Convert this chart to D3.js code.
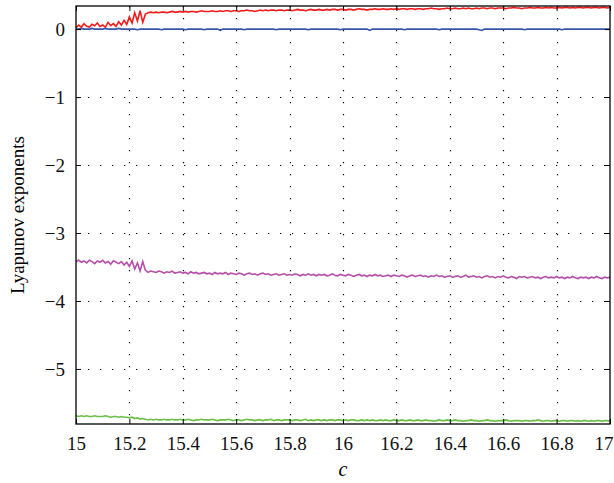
<!DOCTYPE html>
<html><head><meta charset="utf-8">
<script src="https://cdn.jsdelivr.net/npm/d3@7"></script>
<style>body{margin:0;background:#fff}svg{display:block}svg text{font-family:"Liberation Serif","Times New Roman",serif !important}</style>
</head><body><svg id="chart" width="614" height="483"></svg>
<script>
// c sweep: 15.00 .. 17.00, step 0.01 (201 samples)
const cStart = 15, cStep = 0.01;
const xTicks = [15,15.2,15.4,15.6,15.8,16,16.2,16.4,16.6,16.8,17];
const yTicks = [0,-1,-2,-3,-4,-5];

const lambda1 = [ // red
0.02,0.06,0.03,0.08,0.04,0.03,0.07,0.05,0.09,0.04,
0.06,0.03,0.10,0.05,0.08,0.04,0.11,0.06,0.13,0.07,
0.18,0.09,0.24,0.12,0.27,0.10,0.22,0.24,0.25,0.24,
0.25,0.24,0.25,0.25,0.24,0.25,0.26,0.25,0.25,0.26,
0.25,0.26,0.25,0.26,0.26,0.25,0.26,0.27,0.26,0.26,
0.26,0.27,0.26,0.26,0.27,0.26,0.27,0.27,0.26,0.27,
0.27,0.26,0.27,0.27,0.28,0.27,0.27,0.26,0.27,0.28,
0.27,0.28,0.27,0.28,0.28,0.27,0.28,0.28,0.27,0.28,
0.28,0.27,0.28,0.29,0.28,0.28,0.27,0.28,0.29,0.28,
0.28,0.29,0.28,0.28,0.29,0.28,0.29,0.29,0.28,0.29,
0.29,0.28,0.29,0.29,0.28,0.29,0.30,0.29,0.29,0.28,
0.29,0.29,0.30,0.29,0.29,0.30,0.29,0.29,0.30,0.29,
0.30,0.29,0.30,0.30,0.29,0.30,0.30,0.29,0.30,0.30,
0.29,0.30,0.30,0.31,0.30,0.30,0.29,0.30,0.30,0.31,
0.30,0.30,0.31,0.30,0.30,0.31,0.30,0.31,0.30,0.30,
0.31,0.30,0.31,0.31,0.30,0.31,0.31,0.30,0.31,0.31,
0.31,0.30,0.31,0.31,0.32,0.31,0.31,0.30,0.31,0.31,
0.32,0.31,0.31,0.32,0.31,0.31,0.32,0.31,0.32,0.31,
0.31,0.32,0.31,0.32,0.32,0.31,0.32,0.31,0.32,0.32,
0.31,0.32,0.32,0.31,0.32,0.32,0.31,0.32,0.32,0.31,0.32];

const lambda2 = [ // blue
0.00,0.00,0.01,0.00,0.00,0.00,0.01,0.00,0.00,0.00,
0.00,0.01,0.00,0.00,0.00,0.00,0.01,0.00,0.00,0.00,
0.00,0.00,0.00,-0.01,0.00,0.00,0.00,0.00,0.00,0.00,
0.00,0.00,-0.01,0.00,0.00,0.00,0.00,0.00,0.00,0.00,
0.00,-0.01,0.00,0.00,0.00,0.00,0.00,0.00,-0.01,0.00,
0.00,0.00,0.00,0.00,-0.02,0.00,0.00,0.00,0.00,0.00,
0.00,0.00,0.00,-0.01,0.00,0.00,0.00,0.00,0.00,0.00,
0.00,0.00,0.00,0.00,0.00,-0.01,0.00,0.00,0.00,0.00,
0.00,0.00,0.00,0.00,0.00,0.00,0.00,-0.01,0.00,0.00,
0.00,0.00,0.00,0.00,0.00,0.00,0.00,0.00,0.00,-0.01,
0.00,0.00,0.00,0.00,0.00,0.00,0.00,0.00,0.00,0.00,
-0.02,0.00,0.00,0.00,0.00,0.00,0.00,0.00,0.00,0.00,
0.00,0.00,0.00,-0.01,0.00,0.00,0.00,0.00,0.00,0.00,
0.00,0.00,0.00,0.00,0.00,0.00,-0.01,0.00,0.00,0.00,
0.00,0.00,0.00,0.00,0.00,0.00,0.00,0.00,0.00,0.00,
0.00,-0.01,-0.02,0.00,0.00,0.00,0.00,0.00,0.00,0.00,
0.00,0.00,0.00,0.00,0.00,0.00,0.00,0.00,-0.01,0.00,
0.00,0.00,0.00,0.00,0.00,0.00,0.00,0.00,0.00,0.00,
0.00,0.00,-0.01,0.00,0.00,0.00,0.00,0.00,0.00,0.00,
0.00,0.00,0.00,0.00,0.00,0.00,0.00,0.00,0.00,0.00,0.00];

const lambda3 = [ // purple
-3.42,-3.40,-3.43,-3.41,-3.44,-3.40,-3.42,-3.45,-3.41,-3.43,
-3.40,-3.44,-3.42,-3.46,-3.41,-3.43,-3.45,-3.42,-3.47,-3.43,
-3.49,-3.41,-3.53,-3.44,-3.56,-3.42,-3.55,-3.58,-3.56,-3.57,
-3.58,-3.56,-3.57,-3.59,-3.57,-3.58,-3.56,-3.59,-3.58,-3.57,
-3.59,-3.58,-3.60,-3.57,-3.59,-3.58,-3.60,-3.59,-3.58,-3.60,
-3.59,-3.61,-3.58,-3.60,-3.59,-3.60,-3.58,-3.61,-3.59,-3.60,
-3.61,-3.59,-3.60,-3.62,-3.60,-3.59,-3.61,-3.60,-3.62,-3.60,
-3.59,-3.61,-3.60,-3.62,-3.61,-3.60,-3.62,-3.61,-3.60,-3.62,
-3.61,-3.62,-3.60,-3.61,-3.63,-3.61,-3.62,-3.60,-3.62,-3.61,
-3.63,-3.61,-3.62,-3.61,-3.63,-3.62,-3.60,-3.62,-3.63,-3.61,
-3.62,-3.63,-3.61,-3.62,-3.64,-3.62,-3.61,-3.63,-3.62,-3.64,
-3.62,-3.63,-3.61,-3.63,-3.62,-3.64,-3.63,-3.62,-3.64,-3.62,
-3.63,-3.64,-3.62,-3.63,-3.65,-3.63,-3.62,-3.64,-3.63,-3.62,
-3.64,-3.63,-3.65,-3.63,-3.64,-3.62,-3.64,-3.63,-3.65,-3.64,
-3.63,-3.65,-3.64,-3.63,-3.65,-3.64,-3.62,-3.65,-3.64,-3.63,
-3.65,-3.64,-3.66,-3.64,-3.63,-3.65,-3.64,-3.66,-3.64,-3.65,
-3.63,-3.65,-3.66,-3.64,-3.65,-3.67,-3.64,-3.65,-3.64,-3.66,
-3.65,-3.64,-3.66,-3.65,-3.67,-3.65,-3.64,-3.66,-3.65,-3.66,
-3.64,-3.66,-3.65,-3.67,-3.65,-3.66,-3.64,-3.66,-3.67,-3.65,
-3.66,-3.65,-3.67,-3.65,-3.66,-3.64,-3.66,-3.67,-3.65,-3.66,-3.65];

const lambda4 = [ // green
-5.69,-5.70,-5.69,-5.70,-5.69,-5.70,-5.70,-5.69,-5.70,-5.70,
-5.70,-5.69,-5.70,-5.71,-5.70,-5.70,-5.71,-5.70,-5.71,-5.71,
-5.72,-5.71,-5.73,-5.72,-5.74,-5.73,-5.74,-5.75,-5.74,-5.75,
-5.74,-5.75,-5.75,-5.74,-5.75,-5.75,-5.74,-5.75,-5.75,-5.74,
-5.75,-5.75,-5.74,-5.75,-5.76,-5.75,-5.75,-5.74,-5.75,-5.75,
-5.75,-5.74,-5.75,-5.76,-5.75,-5.75,-5.75,-5.74,-5.75,-5.76,
-5.75,-5.75,-5.76,-5.75,-5.74,-5.75,-5.75,-5.76,-5.75,-5.75,
-5.76,-5.75,-5.75,-5.74,-5.76,-5.75,-5.75,-5.76,-5.75,-5.75,
-5.75,-5.76,-5.75,-5.75,-5.76,-5.75,-5.74,-5.76,-5.75,-5.76,
-5.75,-5.75,-5.76,-5.75,-5.76,-5.75,-5.75,-5.76,-5.75,-5.75,
-5.76,-5.75,-5.76,-5.75,-5.75,-5.76,-5.76,-5.75,-5.76,-5.75,
-5.76,-5.75,-5.76,-5.76,-5.75,-5.76,-5.75,-5.76,-5.76,-5.75,
-5.76,-5.76,-5.75,-5.76,-5.76,-5.75,-5.76,-5.76,-5.75,-5.76,
-5.76,-5.75,-5.76,-5.76,-5.77,-5.76,-5.75,-5.76,-5.76,-5.75,
-5.76,-5.76,-5.75,-5.76,-5.76,-5.77,-5.76,-5.76,-5.75,-5.76,
-5.76,-5.77,-5.76,-5.76,-5.75,-5.76,-5.76,-5.77,-5.76,-5.76,
-5.76,-5.75,-5.76,-5.77,-5.76,-5.76,-5.76,-5.77,-5.76,-5.76,
-5.77,-5.76,-5.76,-5.75,-5.76,-5.77,-5.76,-5.76,-5.77,-5.76,
-5.76,-5.77,-5.76,-5.76,-5.77,-5.76,-5.76,-5.77,-5.76,-5.77,
-5.76,-5.76,-5.77,-5.76,-5.77,-5.76,-5.76,-5.77,-5.76,-5.76,-5.77];

const seriesList = [
  {name:"λ4", values:lambda4, color:"#6bbf45"},
  {name:"λ3", values:lambda3, color:"#b54ea9"},
  {name:"λ2", values:lambda2, color:"#3556a8"},
  {name:"λ1", values:lambda1, color:"#f21b1b"}
];

const FONT = "'Liberation Serif','Times New Roman',serif";
const svg = d3.select("#chart");
const L = 76, R = 610, T = 6, B = 424;
const x = d3.scaleLinear().domain([15,17]).range([L,R]);
const y = d3.scaleLinear().domain([-5.81,0.34]).range([B,T]);

// grid
const g = svg.append("g");
g.selectAll(".vg").data(xTicks.slice(1,-1)).join("line")
  .attr("x1",d=>Math.round(x(d))+0.5).attr("x2",d=>Math.round(x(d))+0.5).attr("y1",T).attr("y2",B)
  .attr("stroke","#000").attr("stroke-width",1.2).attr("stroke-dasharray","1.2,10.8");
g.selectAll(".hg").data(yTicks).join("line")
  .attr("y1",d=>Math.round(y(d))+0.5).attr("y2",d=>Math.round(y(d))+0.5).attr("x1",L).attr("x2",R)
  .attr("stroke","#000").attr("stroke-width",1.2).attr("stroke-dasharray","1.2,10.8");

// lines
const line = d3.line().x((d,i)=>x(cStart+i*cStep)).y(d=>y(d));
svg.append("g").selectAll("path").data(seriesList).join("path")
  .attr("d",d=>line(d.values)).attr("fill","none")
  .attr("stroke",d=>d.color).attr("stroke-width",1.6);

// axes
const fs = "19px";
const xb = svg.append("g").attr("transform",`translate(0,${B})`)
  .call(d3.axisBottom(x).tickValues(xTicks).tickSize(-5).tickPadding(13).tickFormat(d3.format("")));
const xt = svg.append("g").attr("transform",`translate(0,${T})`)
  .call(d3.axisTop(x).tickValues(xTicks).tickSize(-5).tickFormat(""));
const yl = svg.append("g").attr("transform",`translate(${L},0)`)
  .call(d3.axisLeft(y).tickValues(yTicks).tickSize(-5).tickPadding(11).tickFormat(d=>d===0?"0":"\u2212"+Math.abs(d)));
const yr = svg.append("g").attr("transform",`translate(${R},0)`)
  .call(d3.axisRight(y).tickValues(yTicks).tickSize(-5).tickFormat(""));
[xb,xt,yl,yr].forEach(a=>{
  a.attr("font-family",FONT);
  a.select(".domain").remove();
  a.selectAll("line").attr("stroke","#000").attr("stroke-width",1);
  a.selectAll("text").attr("font-size",fs).attr("fill","#111").attr("font-family",FONT);
});
xb.selectAll("text").filter(d=>d===17).attr("text-anchor","end").attr("dx","3");
svg.append("rect").attr("x",L).attr("y",T).attr("width",R-L).attr("height",B-T)
  .attr("fill","none").attr("stroke","#000").attr("stroke-width",1.3);

svg.append("text").attr("x",(L+R)/2).attr("y",476).attr("text-anchor","middle")
  .attr("font-family",FONT).attr("font-size","20px").attr("font-style","italic").text("c");
svg.append("text").attr("transform",`translate(24,${(T+B)/2}) rotate(-90)`)
  .attr("font-family",FONT).attr("text-anchor","middle").attr("font-size","19px").text("Lyapunov exponents");
</script></body></html>
